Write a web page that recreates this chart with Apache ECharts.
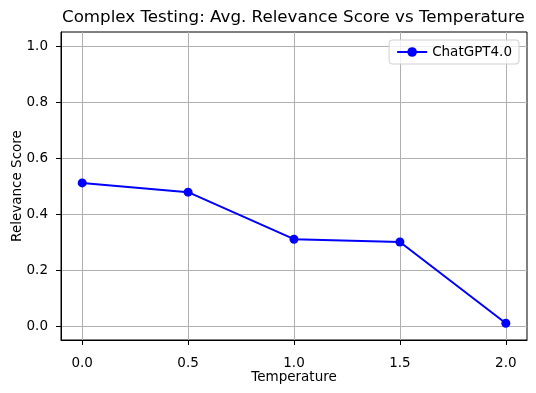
<!DOCTYPE html>
<html><head><meta charset="utf-8">
<script src="https://cdn.jsdelivr.net/npm/echarts@6/dist/echarts.min.js"></script>
<style>html,body{margin:0;padding:0;background:#fff}#c{width:536px;height:393px}</style>
</head><body><div id="c"></div>
<script>
const temperatures = [0.0, 0.5, 1.0, 1.5, 2.0];
const relevance = [0.511, 0.478, 0.310, 0.300, 0.010];
const xTicks = [0.0, 0.5, 1.0, 1.5, 2.0];
const yTicks = [0.0, 0.2, 0.4, 0.6, 0.8, 1.0];
const seriesName = 'ChatGPT4.0';
const font = 'DejaVu Sans';
const chart = echarts.init(document.getElementById('c'), null, {renderer: 'canvas'});
chart.setOption({
  animation: false,
  backgroundColor: '#fff',
  title: {
    text: 'Complex Testing: Avg. Relevance Score vs Temperature',
    left: 57, top: 4,
    textStyle: {fontFamily: font, fontSize: 16.7, fontWeight: 'normal', color: '#000'}
  },
  legend: {
    data: [seriesName],
    right: 17, top: 40,
    orient: 'vertical',
    itemWidth: 30, itemHeight: 12,
    itemGap: 0,
    backgroundColor: 'rgba(255,255,255,0.8)',
    borderColor: '#d0d0d0', borderWidth: 1, borderRadius: 3,
    padding: [5, 7, 5, 7],
    textStyle: {fontFamily: font, fontSize: 13.5, color: '#000'}
  },
  grid: {left: 61, top: 32, width: 466, height: 308, show: true, borderColor: '#000', borderWidth: 1, containLabel: false, outerBoundsMode: 'none'},
  xAxis: {
    type: 'value', min: -0.1, max: 2.1,
    name: 'Temperature', nameLocation: 'middle', nameGap: 30, nameMoveOverlap: false,
    nameTextStyle: {fontFamily: font, fontSize: 13.5, color: '#000'},
    axisLine: {show: true, onZero: false, lineStyle: {color: '#000', width: 1}},
    axisTick: {show: true, length: 5, lineStyle: {color: '#000'}, customValues: xTicks},
    axisLabel: {fontFamily: font, fontSize: 13.5, color: '#000', margin: 16, customValues: xTicks, formatter: v => v.toFixed(1)},
    splitLine: {show: true, lineStyle: {color: '#b0b0b0', width: 1}}
  },
  yAxis: {
    type: 'value', min: -0.05, max: 1.05,
    name: 'Relevance Score', nameLocation: 'middle', nameGap: 37, nameMoveOverlap: false,
    nameTextStyle: {fontFamily: font, fontSize: 13.5, color: '#000'},
    axisLine: {show: true, onZero: false, lineStyle: {color: '#000', width: 1}},
    axisTick: {show: true, length: 5, lineStyle: {color: '#000'}, customValues: yTicks},
    axisLabel: {fontFamily: font, fontSize: 13.5, color: '#000', margin: 13, customValues: yTicks, formatter: v => v.toFixed(1)},
    splitLine: {show: true, lineStyle: {color: '#b0b0b0', width: 1}}
  },
  series: [{
    name: seriesName, type: 'line',
    data: temperatures.map((t, i) => [t, relevance[i]]),
    symbol: 'circle', symbolSize: 9,
    lineStyle: {color: '#0000ff', width: 2},
    itemStyle: {color: '#0000ff'},
    clip: false
  }]
});
</script></body></html>
